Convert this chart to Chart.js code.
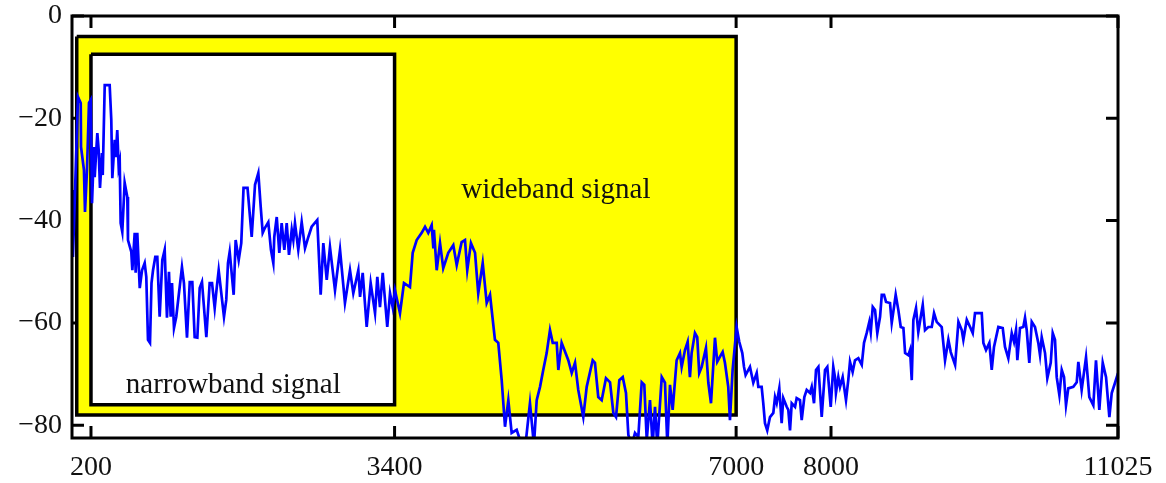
<!DOCTYPE html>
<html>
<head>
<meta charset="utf-8">
<script src="https://cdn.jsdelivr.net/npm/chart.js@4/dist/chart.umd.min.js"></script>
<style>
  html, body { margin: 0; padding: 0; background: #fff; }
  canvas { display: block; }
</style>
</head>
<body>
<canvas id="chart" width="1166" height="483"></canvas>
<script>
// spectrum (Hz / dB)
const freqHz = [
  0, 10, 63, 92, 95, 126, 137, 158, 179, 197, 211, 232, 239, 267, 281, 295, 316, 324, 345, 397,
  414, 425, 450, 461, 477, 492, 503, 513, 530, 555, 583, 590, 625, 636, 646, 661, 671, 688, 714, 738,
  766, 783, 801, 822, 838, 854, 878, 899, 924, 952, 977, 1001, 1022, 1040, 1054, 1075, 1099, 1159, 1180, 1212,
  1241, 1268, 1293, 1321, 1346, 1370, 1416, 1451, 1476, 1504, 1525, 1546, 1602, 1626, 1644, 1662, 1704, 1725, 1757, 1784,
  1808, 1850, 1894, 1929, 1964, 1989, 2010, 2034, 2069, 2097, 2122, 2132, 2158, 2185, 2210, 2238, 2263, 2287, 2316, 2333,
  2350, 2385, 2421, 2456, 2491, 2526, 2585, 2621, 2649, 2685, 2719, 2772, 2825, 2877, 2930, 2965, 3018, 3036, 3064, 3106,
  3148, 3194, 3218, 3246, 3275, 3323, 3352, 3380, 3404, 3457, 3499, 3562, 3591, 3633, 3686, 3721, 3755, 3791, 3808, 3815,
  3844, 3879, 3913, 3966, 4019, 4055, 4107, 4142, 4166, 4205, 4248, 4282, 4329, 4371, 4406, 4458, 4493, 4529, 4564, 4599,
  4634, 4687, 4740, 4785, 4827, 4869, 4898, 4933, 4967, 5003, 5038, 5067, 5109, 5126, 5161, 5231, 5267, 5302, 5336, 5389,
  5425, 5488, 5512, 5547, 5583, 5628, 5671, 5706, 5734, 5769, 5805, 5839, 5864, 5900, 5934, 5969, 6005, 6032, 6058, 6092,
  6120, 6145, 6169, 6216, 6250, 6275, 6303, 6331, 6373, 6408, 6426, 6461, 6489, 6513, 6531, 6566, 6590, 6611, 6637, 6682,
  6707, 6735, 6777, 6801, 6830, 6858, 6882, 6917, 6935, 6963, 7005, 7033, 7065, 7083, 7100, 7146, 7181, 7217, 7234, 7269,
  7286, 7304, 7328, 7357, 7392, 7410, 7428, 7455, 7480, 7497, 7533, 7550, 7568, 7586, 7621, 7638, 7673, 7691, 7719, 7744,
  7779, 7797, 7821, 7842, 7867, 7902, 7937, 7961, 7997, 8024, 8042, 8052, 8077, 8095, 8123, 8158, 8182, 8200, 8228, 8253,
  8288, 8324, 8348, 8376, 8404, 8419, 8440, 8464, 8488, 8517, 8535, 8559, 8580, 8622, 8640, 8664, 8682, 8710, 8735, 8763,
  8781, 8815, 8833, 8851, 8868, 8896, 8920, 8946, 8967, 8991, 9026, 9062, 9086, 9114, 9167, 9202, 9237, 9262, 9308, 9343,
  9378, 9395, 9431, 9466, 9494, 9518, 9589, 9606, 9634, 9669, 9694, 9718, 9764, 9810, 9834, 9869, 9905, 9929, 9950, 9964,
  9992, 10027, 10045, 10063, 10090, 10116, 10150, 10185, 10203, 10221, 10256, 10280, 10316, 10337, 10361, 10379, 10407, 10432, 10456, 10477,
  10501, 10554, 10590, 10607, 10642, 10688, 10723, 10765, 10793, 10828, 10864, 10899, 10934, 10959, 10994, 11025
]
const levelDb = [
  -34.0, -47.1, -15.8, -17.0, -25.6, -30.1, -38.3, -30.1, -17.0, -16.4, -36.6, -25.6, -31.5, -22.9, -26.2, -33.6, -26.8, -31.1, -13.5, -13.5,
  -20.3, -31.7, -24.2, -27.6, -22.3, -29.5, -28.5, -40.5, -42.2, -32.6, -35.4, -43.8, -46.1, -49.7, -46.7, -42.4, -50.2, -42.4, -53.2, -49.7,
  -48.3, -51.0, -63.3, -63.9, -52.2, -49.7, -47.1, -47.1, -58.8, -47.7, -45.7, -59.0, -50.0, -58.8, -52.2, -61.0, -58.8, -49.1, -52.2, -62.9,
  -52.0, -52.0, -62.8, -62.9, -53.2, -52.0, -62.8, -52.2, -52.2, -57.1, -53.2, -49.7, -58.8, -55.5, -48.3, -46.1, -54.5, -43.8, -47.7, -44.4,
  -33.6, -33.6, -43.2, -33.0, -30.7, -37.3, -42.4, -41.4, -40.3, -45.7, -48.3, -43.2, -39.3, -46.3, -40.5, -45.7, -40.5, -46.7, -41.8, -43.8,
  -40.5, -45.7, -40.3, -45.4, -43.2, -41.2, -39.9, -54.5, -44.4, -51.6, -45.2, -53.6, -45.7, -56.1, -49.7, -54.2, -49.7, -54.9, -50.2, -60.8,
  -52.2, -58.1, -51.0, -56.9, -50.2, -60.8, -54.2, -56.9, -53.6, -58.1, -52.2, -53.0, -46.3, -43.8, -42.4, -41.2, -42.4, -40.9, -45.2, -41.8,
  -49.7, -44.4, -49.3, -46.3, -44.8, -48.7, -44.2, -43.8, -49.7, -44.4, -46.3, -54.2, -48.3, -56.1, -54.5, -63.3, -63.9, -71.2, -80.3, -75.1,
  -81.5, -80.9, -83.9, -82.9, -75.7, -83.9, -75.1, -72.5, -69.2, -65.9, -61.4, -63.9, -63.9, -69.2, -63.9, -67.3, -69.8, -67.8, -73.1, -78.4,
  -72.5, -67.3, -67.8, -74.5, -75.1, -70.8, -71.6, -77.6, -78.4, -71.2, -70.6, -73.7, -81.9, -83.9, -81.5, -82.3, -71.6, -72.1, -82.9, -75.1,
  -83.9, -76.4, -83.9, -70.6, -71.7, -83.9, -72.1, -77.0, -67.3, -65.9, -68.6, -65.3, -63.7, -70.6, -65.9, -62.0, -62.8, -69.8, -68.6, -64.9,
  -71.7, -75.7, -62.9, -67.6, -66.6, -65.7, -67.8, -72.5, -79.0, -69.2, -60.8, -63.7, -65.9, -68.6, -70.2, -68.6, -71.7, -69.8, -72.5, -72.5,
  -75.7, -79.6, -81.0, -78.4, -77.6, -74.5, -75.7, -72.8, -79.6, -74.7, -76.4, -77.0, -81.0, -75.7, -76.4, -74.7, -75.1, -79.0, -74.5, -73.1,
  -73.7, -72.5, -75.7, -69.2, -68.6, -78.4, -69.2, -68.6, -76.4, -68.6, -70.6, -73.7, -70.6, -72.5, -70.6, -75.1, -71.2, -67.6, -69.6, -67.3,
  -66.9, -68.2, -63.9, -62.0, -59.8, -61.8, -56.9, -57.5, -62.0, -58.8, -54.5, -54.5, -55.9, -56.1, -60.0, -56.9, -54.5, -57.5, -60.8, -61.0,
  -65.9, -66.3, -65.3, -71.2, -59.4, -57.1, -61.8, -58.8, -56.5, -61.4, -60.8, -60.8, -58.1, -59.8, -60.8, -67.3, -63.3, -65.7, -68.2, -59.8,
  -61.4, -63.3, -59.4, -60.8, -62.0, -58.1, -58.1, -63.9, -65.3, -63.9, -69.2, -64.7, -60.8, -61.0, -64.7, -66.9, -62.0, -63.7, -61.4, -67.3,
  -61.0, -60.8, -59.0, -61.4, -67.8, -59.8, -60.8, -63.9, -66.3, -62.8, -65.9, -70.8, -67.8, -62.0, -63.3, -70.6, -74.1, -69.2, -70.6, -76.1,
  -72.8, -72.5, -71.6, -67.6, -73.1, -66.7, -74.5, -76.1, -67.3, -77.0, -67.8, -70.6, -78.4, -73.7, -71.7, -69.8
]

// band boxes: [low Hz, high Hz] and [bottom dB, top dB]
const wideBand = [50, 7000]
const wideLevels = [-78, -4]
const narrowBand = [200, 3400]
const narrowLevels = [-76, -7.5]

const xTicks = [200, 3400, 7000, 8000, 11025]
const yTicks = [0, -20, -40, -60, -80]
const xRange = [0, 11025]
const yRange = [-82.5, 0]

const labels = [
  { text: "narrowband signal", x: 1700, y: -72.3 },
  { text: "wideband signal", x: 5100, y: -34 }
]

const font = "'Liberation Serif', 'Times New Roman', serif"

function box(band, levels) {
  return [
    { x: band[0], y: levels[1] },
    { x: band[1], y: levels[1] },
    { x: band[1], y: levels[0] },
    { x: band[0], y: levels[0] },
    { x: band[0], y: levels[1] }
  ]
}

const spectrum = freqHz.map((f, i) => ({ x: f, y: levelDb[i] }))

const tickMarks = {
  id: "tickMarks",
  beforeDatasetsDraw(chart) {
    const { ctx, chartArea: a, scales } = chart
    const len = 12
    ctx.save()
    ctx.strokeStyle = "#000"
    ctx.lineWidth = 3
    ctx.beginPath()
    xTicks.forEach(v => {
      const px = scales.x.getPixelForValue(v)
      ctx.moveTo(px, a.bottom); ctx.lineTo(px, a.bottom - len)
      ctx.moveTo(px, a.top); ctx.lineTo(px, a.top + len)
    })
    yTicks.forEach(v => {
      const py = scales.y.getPixelForValue(v)
      ctx.moveTo(a.left, py); ctx.lineTo(a.left + len, py)
      ctx.moveTo(a.right, py); ctx.lineTo(a.right - len, py)
    })
    ctx.stroke()
    ctx.restore()
  },
  afterDatasetsDraw(chart) {
    const { ctx, chartArea: a, scales } = chart
    ctx.save()
    ctx.fillStyle = "#111"
    ctx.font = `29px ${font}`
    ctx.textAlign = "center"
    ctx.textBaseline = "middle"
    labels.forEach(l => {
      ctx.fillText(l.text, scales.x.getPixelForValue(l.x), scales.y.getPixelForValue(l.y))
    })
    ctx.strokeStyle = "#000"
    ctx.lineWidth = 3
    ctx.strokeRect(a.left, a.top, a.right - a.left, a.bottom - a.top)
    ctx.restore()
  }
}

new Chart(document.getElementById("chart"), {
  type: "scatter",
  data: {
    datasets: [
      {
        data: spectrum,
        showLine: true,
        borderColor: "#0000ff",
        borderWidth: 2.7,
        pointRadius: 0,
        tension: 0,
        clip: 0
      },
      {
        data: box(narrowBand, narrowLevels),
        showLine: true,
        fill: "shape",
        backgroundColor: "#ffffff",
        borderColor: "#000",
        borderWidth: 3.5,
        pointRadius: 0,
        tension: 0
      },
      {
        data: box(wideBand, wideLevels),
        showLine: true,
        fill: "shape",
        backgroundColor: "#ffff00",
        borderColor: "#000",
        borderWidth: 3.5,
        pointRadius: 0,
        tension: 0
      }
    ]
  },
  options: {
    responsive: false,
    animation: false,
    layout: { padding: { top: 16, right: 48, left: 0, bottom: 0 } },
    plugins: {
      legend: { display: false },
      tooltip: { enabled: false }
    },
    scales: {
      x: {
        type: "linear",
        min: xRange[0],
        max: xRange[1],
        afterBuildTicks: scale => { scale.ticks = xTicks.map(v => ({ value: v })) },
        afterFit: scale => {
          scale.height = 45
          scale.paddingLeft = 0
          scale.paddingRight = 0
        },
        grid: { display: false, drawTicks: false },
        border: { display: false },
        ticks: {
          autoSkip: false,
          maxRotation: 0,
          padding: 13,
          color: "#111",
          font: { family: font, size: 28 },
          callback: v => String(v)
        }
      },
      y: {
        type: "linear",
        min: yRange[0],
        max: yRange[1],
        afterBuildTicks: scale => { scale.ticks = yTicks.map(v => ({ value: v })) },
        afterFit: scale => {
          scale.width = 72
          scale.paddingTop = 0
          scale.paddingBottom = 0
        },
        grid: { display: false, drawTicks: false },
        border: { display: false },
        ticks: {
          padding: 10,
          color: "#111",
          font: { family: font, size: 28 },
          callback: v => (v < 0 ? "\u2212" + Math.abs(v) : String(v))
        }
      }
    }
  },
  plugins: [tickMarks]
})
</script>
</body>
</html>
